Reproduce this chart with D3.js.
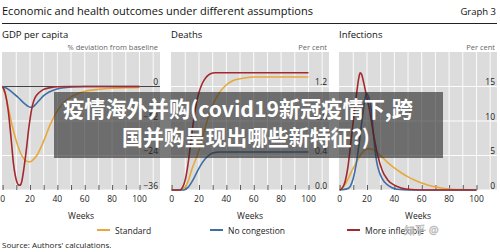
<!DOCTYPE html>
<html><head><meta charset="utf-8">
<script src="https://cdn.jsdelivr.net/npm/d3@7"></script>
<style>
html,body{margin:0;padding:0;background:#fff;}
svg{display:block;font-family:"Open Sans","Noto Sans",sans-serif;}
</style></head>
<body>
<script>
// ---------- data ----------
const seriesNames = ["Standard", "No congestion", "More inflexible"];
const seriesColors = ["#e6a83d", "#3e6ea4", "#a4292e"];

// GDP per capita, % deviation from baseline  [week, value]
const gdpStandard = [[0,0],[2,-3],[4,-7],[6,-11.5],[8,-15.5],[10,-19],[12,-21.8],[14,-24],[16,-25.4],[18,-26.1],[20,-26.2],[22,-25.6],[25,-24],[30,-19],[35,-13],[40,-8.5],[45,-5.5],[50,-3.6],[55,-2.4],[60,-1.7],[70,-1],[80,-0.6],[90,-0.4],[100,-0.3]];
const gdpNoCongestion = [[0,0],[3,-0.6],[6,-1.6],[9,-2.8],[12,-4.1],[15,-5.5],[18,-6.7],[20,-7.2],[22,-7.1],[24,-6.3],[27,-4.7],[30,-3.2],[34,-1.9],[38,-1.1],[42,-0.6],[50,-0.2],[60,0],[100,0]];
const gdpInflexible = [[0,0],[2,-2.5],[4,-8],[6,-17],[8,-27],[10,-32.5],[12,-34.3],[13,-34.3],[14,-33],[16,-27],[17.6,-21],[19,-15],[20,-11.5],[21,-8.5],[22,-6.2],[24,-3.6],[27,-2],[30,-1],[35,-0.4],[40,-0.1],[50,0],[100,0]];

// Deaths, per cent (cumulative)
const deathsStandard = [[0,0],[6,0],[9,0.02],[12,0.1],[15,0.25],[18,0.37],[20,0.46],[22,0.58],[25,0.75],[28,0.9],[31,1.02],[35,1.13],[40,1.22],[45,1.27],[50,1.29],[60,1.31],[100,1.31]];
const deathsNoCongestion = [[0,0],[9,0],[12,0.03],[15,0.1],[18,0.19],[21,0.28],[24,0.35],[27,0.4],[30,0.43],[35,0.44],[100,0.44]];
const deathsInflexible = [[0,0],[6,0],[8,0.03],[10,0.12],[12,0.3],[14,0.55],[16,0.8],[18,1.0],[20,1.13],[22,1.22],[24,1.28],[26,1.32],[28,1.345],[32,1.36],[100,1.36]];

// Infections, per cent
const infStandard = [[0,0],[3,0.5],[6,1.5],[9,2.8],[12,3.9],[15,5],[18,5.7],[21,6.0],[24,5.9],[27,5.5],[31,4.8],[35,4.0],[40,3.2],[45,2.5],[50,1.9],[55,1.4],[60,1.0],[65,0.7],[70,0.45],[75,0.25],[80,0.15],[90,0.05],[100,0]];
const infNoCongestion = [[0,0],[6,0.2],[8,0.6],[10,1.7],[12,3.6],[14,6.3],[16,9.5],[18,12.5],[19.5,14],[21,13.6],[23,11.8],[25,7.5],[27,4.2],[29,2.6],[31,1.7],[34,0.9],[38,0.35],[42,0.1],[50,0],[100,0]];
const infInflexible = [[0,0],[2,0.3],[4,1.2],[6,3.2],[8,6.5],[10,10],[12,13.3],[14,16.2],[15,17],[16,16.8],[18,15.2],[20,13.3],[22,11.5],[24,9],[26,6.8],[28,4.9],[31,2.9],[35,1.5],[40,0.7],[45,0.3],[50,0.1],[60,0],[100,0]];

const xTickValues = [0, 20, 40, 60, 80, 100];
const gdpTicks = [0, -12, -24, -36];
const deathsTicks = [0, 0.4, 0.8, 1.2];
const infTicks = [0, 5, 10, 15];

const panels = [
  {title: "GDP per capita", unit: "% deviation from baseline", domain: [-36, 12], ticks: gdpTicks, fmt: d => d < 0 ? "\u2212" + Math.abs(d) : String(d), zero: true,
   series: [gdpStandard, gdpNoCongestion, gdpInflexible]},
  {title: "Deaths", unit: "Per cent", domain: [0, 1.6], ticks: deathsTicks, fmt: d3.format(".1f"), zero: false,
   series: [deathsStandard, deathsNoCongestion, deathsInflexible]},
  {title: "Infections", unit: "Per cent", domain: [0, 20], ticks: infTicks, fmt: d => String(d), zero: false,
   series: [infStandard, infNoCongestion, infInflexible]}
];

// ---------- layout ----------
const W = 500, H = 252;
const svg = d3.select("body").append("svg").attr("width", W).attr("height", H);

function fit(sel, target) {
  const n = sel.node();
  const fs = parseFloat(sel.attr("font-size"));
  const w = n.getComputedTextLength();
  if (w > 0) sel.attr("font-size", (fs * target / w).toFixed(2));
  return sel;
}

// header
fit(svg.append("text").attr("x", 2).attr("y", 15).attr("font-size", 12).attr("fill", "#111")
  .text("Economic and health outcomes under different assumptions"), 311);
svg.append("text").attr("x", 496).attr("y", 15).attr("text-anchor", "end").attr("font-size", 9.5).attr("fill", "#111")
  .text("Graph 3");
svg.append("line").attr("x1", 2).attr("x2", 497).attr("y1", 23.5).attr("y2", 23.5).attr("stroke", "#222").attr("stroke-width", 1);

const panelLeft = [2, 171, 339];
const panelW = 158;
const plotTop = 52, plotBottom = 190;

panels.forEach((p, i) => {
  const L = panelLeft[i];
  const x = d3.scaleLinear().domain([0, 115]).range([L + 0.6, L + panelW]);
  const y = d3.scaleLinear().domain(p.domain).range([plotBottom, plotTop]);
  const g = svg.append("g");

  g.append("text").attr("x", L).attr("y", 38).attr("font-size", 9.5).attr("fill", "#111").text(p.title);
  g.append("text").attr("x", L + panelW - 2).attr("y", 50).attr("text-anchor", "end").attr("font-size", 7.5).attr("fill", "#666").text(p.unit);

  g.append("rect").attr("x", L).attr("y", plotTop).attr("width", panelW).attr("height", plotBottom - plotTop).attr("fill", "#dcdcdc");

  // vertical gridlines
  g.append("g").selectAll("line").data(d3.range(10, 115, 10)).join("line")
    .attr("x1", d => x(d)).attr("x2", d => x(d)).attr("y1", plotTop).attr("y2", plotBottom)
    .attr("stroke", "#fff").attr("stroke-width", 0.9);
  // horizontal gridlines
  g.append("g").selectAll("line").data(p.ticks.filter(t => !(p.zero && t === 0))).join("line")
    .attr("x1", L).attr("x2", L + panelW).attr("y1", d => y(d)).attr("y2", d => y(d))
    .attr("stroke", "#fff").attr("stroke-width", 0.9);

  // right-side y labels (inside the plot)
  g.append("g").selectAll("text").data(p.ticks).join("text")
    .attr("x", L + panelW - 2).attr("y", d => y(d) - 1.5).attr("text-anchor", "end")
    .attr("font-size", 8.5).attr("fill", "#222").text(p.fmt);

  // x axis tick marks and labels
  const xAxis = d3.axisBottom(x).tickValues(d3.range(0, 101, 10)).tickSize(-5).tickFormat("");
  const ax = g.append("g").attr("transform", `translate(0,${plotBottom})`).call(xAxis);
  ax.select(".domain").remove();
  ax.selectAll("line").attr("stroke", "#333").attr("stroke-width", 0.8);

  g.append("g").selectAll("text").data(xTickValues).join("text")
    .attr("x", d => x(d)).attr("y", 202).attr("text-anchor", "middle")
    .attr("font-size", 8.5).attr("fill", "#222").text(d => d);

  g.append("text").attr("x", L + panelW / 2).attr("y", 219).attr("text-anchor", "middle").attr("font-size", 8.5).attr("fill", "#222").text("Weeks");

  if (p.zero) {
    g.append("line").attr("x1", L).attr("x2", L + panelW).attr("y1", y(0)).attr("y2", y(0))
      .attr("stroke", "#444").attr("stroke-width", 1);
  }

  const line = d3.line().x(d => x(d[0])).y(d => y(d[1])).curve(d3.curveMonotoneX);
  p.series.forEach((s, k) => {
    g.append("path").datum(s).attr("d", line).attr("fill", "none")
      .attr("stroke", seriesColors[k]).attr("stroke-width", 1.6);
  });
});

// legend
const legendX = [97, 210, 347];
seriesNames.forEach((n, k) => {
  svg.append("line").attr("x1", legendX[k]).attr("x2", legendX[k] + 13).attr("y1", 230).attr("y2", 230)
    .attr("stroke", seriesColors[k]).attr("stroke-width", 2);
  svg.append("text").attr("x", legendX[k] + 18).attr("y", 233.5).attr("font-size", 8.5).attr("fill", "#222").text(n);
});

svg.append("text").attr("x", 2).attr("y", 248).attr("font-size", 8).attr("fill", "#222")
  .text("Source: Authors' calculations.");

// watermark
svg.append("text").attr("x", 404).attr("y", 234).attr("font-size", 11).attr("fill", "none")
  .attr("stroke", "#bbb").attr("stroke-width", 0.6).text("知乎 @");

// overlay banner
svg.append("rect").attr("x", 54).attr("y", 92).attr("width", 389).attr("height", 66)
  .attr("fill", "rgba(40,40,40,0.62)");
const bannerLines = ["疫情海外并购(covid19新冠疫情下,跨", "国并购呈现出哪些新特征?)"];
const bannerWidths = [350, 248];
const bannerX = [238, 246];
const bannerY = [117, 145];
bannerLines.forEach((s, i) => {
  const t = svg.append("text").attr("x", bannerX[i]).attr("y", bannerY[i]).attr("text-anchor", "middle")
    .attr("font-size", 20).attr("font-weight", "bold").attr("fill", "#fff")
    .attr("font-family", "'Noto Sans CJK SC','Noto Sans',sans-serif").text(s);
  fit(t, bannerWidths[i]);
});
</script>
</body></html>
